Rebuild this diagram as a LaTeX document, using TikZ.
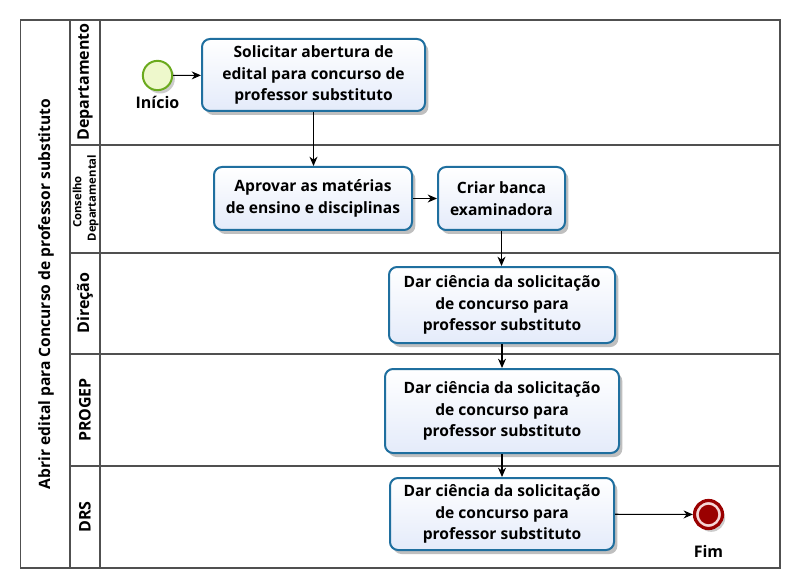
\documentclass[tikz,border=0pt]{standalone}
\usepackage{fontspec}
\setmainfont{Open Sans}
\usetikzlibrary{shadows,arrows.meta}
\definecolor{taskblue}{HTML}{1F6F9F}
\definecolor{taskfill}{HTML}{E4EBFA}
\definecolor{startgreen}{HTML}{6BAA1E}
\definecolor{startfill}{HTML}{EEF8CC}
\definecolor{endred}{HTML}{9A0000}
\definecolor{endring}{HTML}{F6D6D6}
\definecolor{lanegray}{HTML}{505050}
\newcommand\taskfont{\bfseries\fontsize{11.7}{16.3}\selectfont}
\newcommand\lblfont{\bfseries\fontsize{11.7}{13}\selectfont}
\tikzset{
  task/.style={draw=taskblue, line width=1.5pt, rounded corners=6pt,
    top color=white, bottom color=taskfill,
    drop shadow={shadow xshift=2.5pt, shadow yshift=-3pt, opacity=0.25, fill=black},
    align=center, font=\taskfont, inner sep=0pt},
  lane/.style={draw=lanegray, line width=0.9pt},
  flow/.style={-{Stealth[length=7pt,width=6pt]}, line width=0.8pt, black},
  lanelabel/.style={rotate=90, font=\lblfont, inner sep=0pt},
  evtlabel/.style={font=\bfseries\fontsize{12}{13}\selectfont, inner sep=0pt},
}
\begin{document}
\begin{tikzpicture}[x=0.75pt,y=-0.75pt]
\useasboundingbox (0,0) rectangle (800,588);
% pool and lanes
\draw[lane] (20.5,20) rectangle (780,568);
\draw[lane] (70,20) -- (70,568);
\draw[lane] (100,20) -- (100,568);
\draw[lane] (70,145) -- (780,145);
\draw[lane] (70,253) -- (780,253);
\draw[lane] (70,354) -- (780,354);
\draw[lane] (70,466) -- (780,466);
\node[lanelabel] (pool) at (46,294) {Abrir edital para Concurso de professor substituto};
\node[lanelabel, font=\bfseries\fontsize{12}{13}\selectfont] (l1) at (85,82) {Departamento};
\node[lanelabel, font=\bfseries\fontsize{8.5}{9}\selectfont] (l2a) at (77,202) {Conselho};
\node[lanelabel, font=\bfseries\fontsize{8.5}{9}\selectfont] (l2b) at (93,198) {Departamental};
\node[lanelabel, font=\bfseries\fontsize{12}{13}\selectfont] (l3) at (85,303) {Direção};
\node[lanelabel, font=\bfseries\fontsize{12}{13}\selectfont] (l4) at (85,410) {PROGEP};
\node[lanelabel, font=\bfseries\fontsize{12}{13}\selectfont] (l5) at (85,517) {DRS};
% events
\node[circle, draw=startgreen, line width=1.5pt, fill=startfill, minimum size=22pt, inner sep=0pt,
  drop shadow={shadow xshift=2pt, shadow yshift=-2.5pt, opacity=0.2, fill=black}] (start) at (157.5,75.5) {};
\node[evtlabel] (startlbl) at (157.5,102) {Início};
\node[circle, draw=endred, line width=2.4pt, fill=endring, minimum size=21pt, inner sep=0pt,
  drop shadow={shadow xshift=2pt, shadow yshift=-2.5pt, opacity=0.2, fill=black}] (end) at (708.5,514.5) {};
\node[circle, fill=endred, minimum size=14.5pt, inner sep=0pt] (endcore) at (end.center) {};
\node[evtlabel] (endlbl) at (708.5,551) {Fim};
% tasks
\node[task, minimum width=167.25pt, minimum height=54pt] (t1) at (313.5,75)
  {Solicitar abertura de\\edital para concurso de\\professor substituto};
\node[task, minimum width=148.5pt, minimum height=47.25pt] (t2) at (313,198.5)
  {Aprovar as matérias\\de ensino e disciplinas};
\node[task, minimum width=95.25pt, minimum height=47.25pt] (t3) at (501.5,198.5)
  {Criar banca\\examinadora};
\node[task, minimum width=169.5pt, minimum height=57pt] (t4) at (502,305)
  {Dar ciência da solicitação\\de concurso para\\professor substituto};
\node[task, minimum width=175.5pt, minimum height=63pt] (t5) at (502,411)
  {Dar ciência da solicitação\\de concurso para\\professor substituto};
\node[task, minimum width=168pt, minimum height=54pt] (t6) at (502,514)
  {Dar ciência da solicitação\\de concurso para\\professor substituto};
% flows
\draw[flow] (start) -- (t1);
\draw[flow] (t1.south) -- (t1.south |- t2.north);
\draw[flow] (t2) -- (t3);
\draw[flow] (t3.south) -- (t3.south |- t4.north);
\draw[flow] (t4) -- (t5);
\draw[flow] (t5) -- (t6);
\draw[flow] (t6) -- (end);
\end{tikzpicture}
\end{document}
